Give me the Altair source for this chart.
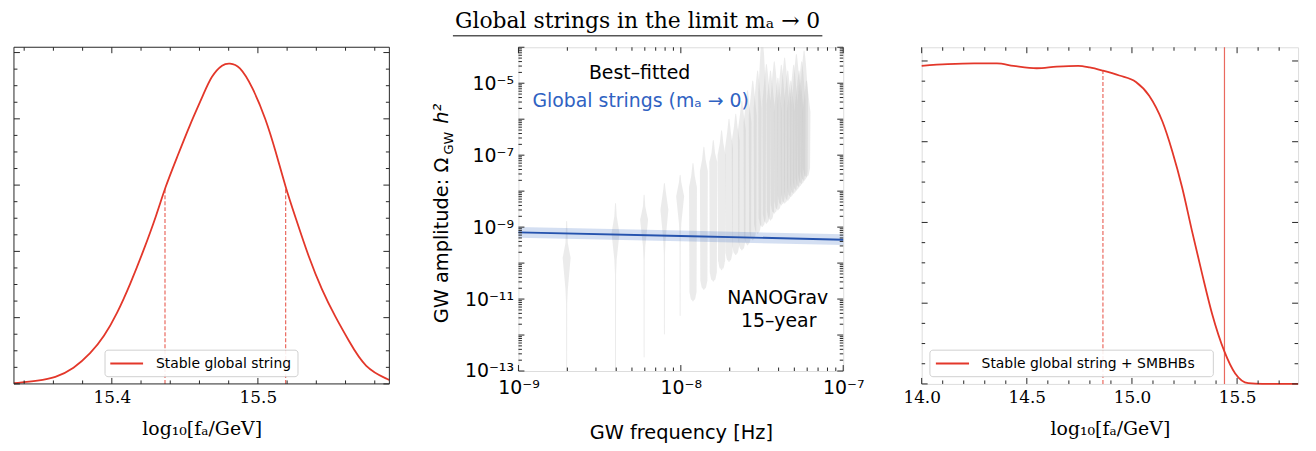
import altair as alt
import pandas as pd
import numpy as np

# ---------------- data ----------------
# left panel: posterior of log10(f_a/GeV), stable global string
left_x = [15.333, 15.350, 15.361, 15.374, 15.3855, 15.3946, 15.4036, 15.4127, 15.4217,
          15.4308, 15.4364, 15.4443, 15.4534, 15.4624, 15.4681, 15.476, 15.4805, 15.4873,
          15.4964, 15.5054, 15.5122, 15.519, 15.5258, 15.5348, 15.5439, 15.553, 15.562,
          15.5733, 15.590]
left_d = [0.01, 0.05, 0.09, 0.23, 0.46, 0.71, 1.06, 1.51, 2.01, 2.56, 2.96, 3.40, 3.91,
          4.35, 4.65, 4.83, 4.84, 4.81, 4.48, 4.00, 3.51, 2.96, 2.51, 1.91, 1.41, 1.01,
          0.66, 0.23, 0.06]
left_ci_x = [15.4364, 15.519]
left_ci_d = [2.96, 2.96]
left_label = "Stable global string"

# right panel: stable global string + SMBHBs
right_x = [14.0, 14.123, 14.249, 14.358, 14.437, 14.547, 14.642, 14.744, 14.799, 14.862,
           14.94, 15.019, 15.082, 15.145, 15.192, 15.239, 15.286, 15.334, 15.381, 15.44,
           15.491, 15.553, 15.62, 15.79]
right_d = [3.94, 3.96, 3.97, 3.97, 3.94, 3.91, 3.93, 3.94, 3.92, 3.88, 3.82, 3.74, 3.57,
           3.25, 2.88, 2.43, 1.89, 1.36, 0.87, 0.40, 0.13, 0.01, 0.0, 0.0]
right_ci_x = [14.862]
right_ci_d = [3.88]
right_bound_x = [15.44]
right_label = "Stable global string + SMBHBs"

# middle panel: NANOGrav 15-year violins (log10 Omega h^2)
nano_k = list(range(1, 31))
nano_f1 = 1.98e-9
v_top = [-8.84, -8.34, -8.11, -7.79, -7.56, -7.23, -6.78, -6.59, -6.32, -6.0,
         -5.86, -5.5, -5.21, -4.94, -4.66, -3.8, -4.48, -4.66, -4.4, -4.86,
         -4.5, -4.3, -4.66, -4.94, -4.5, -4.2, -4.66, -4.4, -4.1, -4.94]
v_peak = [-9.86, -9.17, -8.80, -8.52, -8.15, -7.9, -7.45, -7.2, -7.0, -6.8,
          -6.6, -6.3, -6.1, -5.9, -5.7, -5.3, -5.5, -5.6, -5.5, -5.8,
          -5.6, -5.4, -5.6, -5.8, -5.6, -5.4, -5.6, -5.5, -5.3, -5.8]
v_bottom = [-13.3, -13.3, -12.61, -11.97, -11.46, -11.05, -10.73, -10.50, -10.18, -9.95,
            -9.76, -9.63, -9.49, -9.35, -9.17, -8.98, -8.89, -8.80, -8.61, -8.52,
            -8.38, -8.33, -8.25, -8.15, -8.06, -7.97, -7.88, -7.79, -7.70, -7.60]
v_bodytop = [-9.44, -8.70, -8.43, -7.97, -7.75]
v_bodybot = [-10.73, -9.90, -9.53, -9.35, -8.89]

# best-fit global strings spectrum
gs_f = [1e-9, 1e-8, 1e-7]
gs_log = [-9.146, -9.245, -9.35]
gs_err = 0.15

# tick values and labels
left_xmaj = [15.4, 15.5]
left_xmin = [15.34, 15.36, 15.38, 15.42, 15.44, 15.46, 15.48, 15.52, 15.54, 15.56, 15.58]
left_ymaj = [0, 1, 2, 3, 4, 5]
left_ymin = [0.25, 0.5, 0.75, 1.25, 1.5, 1.75, 2.25, 2.5, 2.75, 3.25, 3.5, 3.75, 4.25, 4.5, 4.75]
right_xmaj = [14.0, 14.5, 15.0, 15.5]
right_xmin = [14.1, 14.2, 14.3, 14.4, 14.6, 14.7, 14.8, 14.9, 15.1, 15.2, 15.3, 15.4, 15.6, 15.7]
right_ymaj = [0, 1, 2, 3, 4]
right_ymin = [0.25, 0.5, 0.75, 1.25, 1.5, 1.75, 2.25, 2.5, 2.75, 3.25, 3.5, 3.75]
mid_xmaj = [1e-9, 1e-8, 1e-7]
mid_xlabels = ["10⁻⁹", "10⁻⁸", "10⁻⁷"]
mid_xmin = [m * 10.0 ** e for e in (-9, -8) for m in range(2, 10)]
mid_ymaj = [10.0 ** e for e in range(-13, -3)]
mid_ymin = [m * 10.0 ** e for e in range(-13, -4) for m in range(2, 10)]
mid_ylab_vals = [1e-13, 1e-11, 1e-9, 1e-7, 1e-5]
mid_ylabels = ["10⁻¹³", "10⁻¹¹", "10⁻⁹", "10⁻⁷", "10⁻⁵"]

# ---------------- style ----------------
RED = "#e3372a"
BLUE = "#2553ae"
BLUE_TXT = "#2f62c2"
FRAME = "#262626"
SANS = "DejaVu Sans"
SERIF = "DejaVu Serif"

LW, LH = 378, 339      # left visible frame
LVW = 429              # left view width (extra room for the gap)
MW, MH = 327, 326
RW, RH = 379, 339


def label_expr(vals, labels):
    expr = "''"
    for v, l in reversed(list(zip(vals, labels))):
        expr = f"abs(datum.value - {v:.3e}) < {v * 0.01:.3e} ? '{l}' : " + expr
    return expr


def ticks_layers(xscale, yscale, W, H, xmaj, xmin, ymaj, ymin, xaxis=None, yaxis=None):
    out = []
    for vals, L in ((xmaj, 6), (xmin, 3.5)):
        src = alt.Chart(pd.DataFrame({"tv": vals})).mark_rule(color=FRAME, strokeWidth=1)
        xe = alt.X("tv:Q", scale=xscale, axis=xaxis)
        out.append(src.encode(x=xe, y=alt.value(H), y2=alt.value(H - L)))
        out.append(src.encode(x=xe, y=alt.value(0), y2=alt.value(L)))
    for vals, L in ((ymaj, 6), (ymin, 3.5)):
        src = alt.Chart(pd.DataFrame({"tv": vals})).mark_rule(color=FRAME, strokeWidth=1)
        ye = alt.Y("tv:Q", scale=yscale, axis=yaxis)
        out.append(src.encode(y=ye, x=alt.value(0), x2=alt.value(L)))
        out.append(src.encode(y=ye, x=alt.value(W), x2=alt.value(W - L)))
    return out


def text_layer(txt, x, y, size, color="black", font=SANS, align="center",
               baseline="middle", angle=0, style="normal"):
    return alt.Chart(pd.DataFrame({"t": [txt]})).mark_text(
        font=font, fontSize=size, color=color, align=align, baseline=baseline,
        angle=angle, fontStyle=style
    ).encode(text="t:N", x=alt.value(x), y=alt.value(y))


def legend_box(label, x0, x1, y0, y1, sx0, sx1, tx):
    one = pd.DataFrame({"t": [label]})
    box = alt.Chart(one).mark_rect(fill="white", stroke="#cccccc", strokeWidth=1,
                                   cornerRadius=3, opacity=0.9).encode(
        x=alt.value(x0), x2=alt.value(x1), y=alt.value(y0), y2=alt.value(y1))
    sym = alt.Chart(one).mark_rule(color=RED, strokeWidth=2).encode(
        x=alt.value(sx0), x2=alt.value(sx1), y=alt.value((y0 + y1) / 2))
    txt = alt.Chart(one).mark_text(font=SANS, fontSize=14, color="black", align="left",
                                   baseline="middle").encode(
        text="t:N", x=alt.value(tx), y=alt.value((y0 + y1) / 2 + 0.5))
    return [box, sym, txt]


def xaxis_serif(values, center):
    return alt.Axis(values=values, format=".1f", title="log₁₀[fₐ/GeV]", titleX=center,
                    ticks=False, domain=False, grid=False, labelFont=SERIF,
                    labelFontSize=17, labelColor="black", titleFont=SERIF,
                    titleFontSize=19, titleFontWeight="normal", titleColor="black",
                    labelPadding=6, titlePadding=14, labelFlush=False, labelOverlap=False)


# ---------------- left panel ----------------
lx = alt.Scale(domain=[15.333, 15.590], range=[0, LW], nice=False, zero=False)
ly = alt.Scale(domain=[0, 5.08], nice=False, zero=False)
lxa = xaxis_serif(left_xmaj, LW / 2)
left_df = pd.DataFrame({"x": left_x, "d": left_d})
left_line = alt.Chart(left_df).mark_line(
    strokeWidth=1.8, interpolate="basis", color=RED
).encode(x=alt.X("x:Q", scale=lx, axis=lxa), y=alt.Y("d:Q", scale=ly, axis=None))
left_ci = alt.Chart(pd.DataFrame({"x": left_ci_x, "z": [0, 0], "d": left_ci_d})).mark_rule(
    color=RED, strokeDash=[4, 2], strokeWidth=1.2, opacity=0.75
).encode(x=alt.X("x:Q", scale=lx, axis=lxa), y=alt.Y("z:Q", scale=ly, axis=None), y2="d:Q")
left_frame = alt.Chart(pd.DataFrame({"a": [0]})).mark_rect(
    filled=False, stroke=FRAME, strokeWidth=1
).encode(x=alt.value(0), x2=alt.value(LW), y=alt.value(0), y2=alt.value(LH))

left = alt.layer(
    left_ci, left_line,
    *legend_box(left_label, 91.7, 286, 305, 331.7, 97, 130, 143),
    left_frame,
    *ticks_layers(lx, ly, LW, LH, left_xmaj, left_xmin, left_ymaj, left_ymin, xaxis=lxa)
).properties(width=LVW, height=LH, view=alt.ViewBackground(stroke="transparent"))

# ---------------- middle panel ----------------
mx = alt.Scale(type="log", domain=[1e-9, 1e-7], nice=False)
my = alt.Scale(type="log", domain=[1e-13, 1e-4], nice=False)
mya = alt.Axis(values=mid_ylab_vals, labelExpr=label_expr(mid_ylab_vals, mid_ylabels),
               ticks=False, domain=False, grid=False, title=None, labelFont=SANS,
               labelFontSize=19, labelColor="black", labelPadding=5, labelOverlap=False)
mxa = alt.Axis(values=mid_xmaj, labelExpr=label_expr(mid_xmaj, mid_xlabels),
               ticks=False, domain=False, grid=False, title="GW frequency [Hz]",
               titleFont=SANS, titleFontSize=19.5, titleFontWeight="normal", titleColor="black",
               labelFont=SANS, labelFontSize=19, labelColor="black", labelPadding=8,
               titlePadding=26, labelFlush=False, labelOverlap=False)

VW = 8.0   # full width of a violin body in pixels
rows = []
for i, k in enumerate(nano_k):
    f = k * nano_f1
    if i < 5:
        pts = [(v_top[i], 0.12), (v_bodytop[i], 0.3), (v_peak[i], 1.0),
               (v_bodybot[i], 0.3), (v_bodybot[i] - 0.4, 0.14), (v_bottom[i], 0.12)]
    else:
        pts = [(v_top[i], 0.12), (v_top[i] - 0.35, 0.45), (v_peak[i], 1.0),
               (v_bottom[i] + 0.25, 0.9), (v_bottom[i] + 0.08, 0.6), (v_bottom[i], 0.15)]
    for o, (lv, w) in enumerate(pts):
        rows.append({"k": k, "o": o, "f": f, "y": 10 ** lv, "w": w * VW})
vio_df = pd.DataFrame(rows)

violins = alt.Chart(vio_df).mark_trail(color="#c0c0c0", opacity=0.32, clip=True).encode(
    x=alt.X("f:Q", scale=mx, axis=mxa),
    y=alt.Y("y:Q", scale=my, axis=mya),
    size=alt.Size("w:Q", scale=None, legend=None),
    detail="k:N",
    order="o:Q",
)

gs_df = pd.DataFrame({
    "f": gs_f,
    "c": [10 ** v for v in gs_log],
    "lo": [10 ** (v - gs_err) for v in gs_log],
    "hi": [10 ** (v + gs_err) for v in gs_log],
})
band = alt.Chart(gs_df).mark_area(color="#3c6dc6", opacity=0.22).encode(
    x=alt.X("f:Q", scale=mx, axis=mxa), y=alt.Y("lo:Q", scale=my, axis=mya), y2="hi:Q")
gs_line = alt.Chart(gs_df).mark_line(color=BLUE, strokeWidth=2).encode(
    x=alt.X("f:Q", scale=mx, axis=mxa), y=alt.Y("c:Q", scale=my, axis=mya))

mid_texts = [
    text_layer("Best–fitted", 122, 26, 19),
    text_layer("Global strings (mₐ → 0)", 123, 54, 19, color=BLUE_TXT),
    text_layer("NANOGrav", 261, 253, 19),
    text_layer("15–year", 262, 276, 19),
    # title and underline
    text_layer("Global strings in the limit mₐ → 0", 120, -19, 22, font=SERIF,
               baseline="alphabetic"),
    # y-axis title pieces (rotated)
    text_layer("GW amplitude: Ω", -71, 278, 19.5, align="left", baseline="alphabetic", angle=270),
    text_layer("GW", -66, 108, 13, align="left", baseline="alphabetic", angle=270),
    text_layer("h²", -71, 77, 19.5, align="left", baseline="alphabetic", angle=270, style="italic"),
]
underline = alt.Chart(pd.DataFrame({"a": [0]})).mark_rule(color="black", strokeWidth=1).encode(
    x=alt.value(-66), x2=alt.value(306), y=alt.value(-11.5))

middle = alt.layer(
    violins, band, gs_line, *mid_texts, underline,
    *ticks_layers(mx, my, MW, MH, mid_xmaj, mid_xmin, mid_ymaj, mid_ymin, xaxis=mxa, yaxis=mya)
).properties(width=MW, height=MH)

# ---------------- right panel ----------------
rx = alt.Scale(domain=[14.0, 15.79], nice=False, zero=False)
ry = alt.Scale(domain=[0, 4.17], nice=False, zero=False)
rxa = xaxis_serif(right_xmaj, RW / 2)
right_df = pd.DataFrame({"x": right_x, "d": right_d})
right_line = alt.Chart(right_df).mark_line(
    strokeWidth=1.8, interpolate="monotone", color=RED
).encode(x=alt.X("x:Q", scale=rx, axis=rxa), y=alt.Y("d:Q", scale=ry, axis=None))
right_ci = alt.Chart(pd.DataFrame({"x": right_ci_x, "z": [0], "d": right_ci_d})).mark_rule(
    color=RED, strokeDash=[4, 2], strokeWidth=1.2, opacity=0.75
).encode(x=alt.X("x:Q", scale=rx, axis=rxa), y=alt.Y("z:Q", scale=ry, axis=None), y2="d:Q")
right_bound = alt.Chart(pd.DataFrame({"x": right_bound_x})).mark_rule(
    color=RED, strokeWidth=1.2, opacity=0.75
).encode(x=alt.X("x:Q", scale=rx, axis=rxa), y=alt.value(0), y2=alt.value(RH))

right = alt.layer(
    right_ci, right_bound, right_line,
    *legend_box(right_label, 8.3, 293.7, 305, 331.7, 14.3, 47.7, 60.3),
    *ticks_layers(rx, ry, RW, RH, right_xmaj, right_xmin, right_ymaj, right_ymin, xaxis=rxa)
).properties(width=RW, height=RH)

chart = alt.hconcat(left, middle, right, spacing=79, bounds="flush").properties(
    padding={"left": 1, "top": 0, "right": 5, "bottom": 5}
).configure_view(stroke=FRAME, strokeWidth=1).configure(background="white")

chart.save("out.html", embed_options={"renderer": "svg", "actions": False})
